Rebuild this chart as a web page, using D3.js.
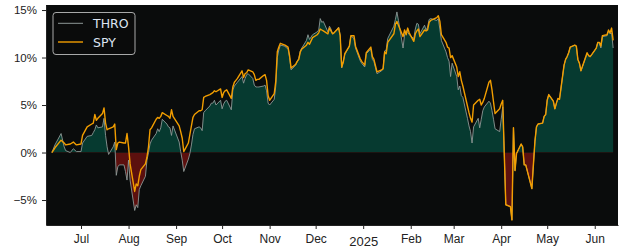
<!DOCTYPE html>
<html>
<head>
<meta charset="utf-8">
<script src="https://cdn.jsdelivr.net/npm/d3@7"></script>
<style>
  body { margin: 0; background: #fff; }
  svg { display: block; font-family: "DejaVu Sans", sans-serif; }
</style>
</head>
<body>
<div id="chart"></div>
<script>
// Trading days (sampled) and cumulative return in %
const dates = [
  "2024-06-12","2024-06-14","2024-06-18","2024-06-20","2024-06-21","2024-06-24","2024-06-26","2024-06-28",
  "2024-07-01","2024-07-02","2024-07-05","2024-07-08","2024-07-09","2024-07-10","2024-07-11","2024-07-12",
  "2024-07-15","2024-07-16","2024-07-17","2024-07-18","2024-07-19","2024-07-22","2024-07-23","2024-07-24",
  "2024-07-25","2024-07-26","2024-07-29","2024-07-30","2024-07-31","2024-08-01","2024-08-02","2024-08-05",
  "2024-08-06","2024-08-07","2024-08-08","2024-08-09","2024-08-12","2024-08-13","2024-08-14","2024-08-15",
  "2024-08-16","2024-08-19","2024-08-20","2024-08-21","2024-08-22","2024-08-23","2024-08-26","2024-08-27",
  "2024-08-28","2024-08-29","2024-08-30","2024-09-03","2024-09-04","2024-09-05","2024-09-06","2024-09-09",
  "2024-09-10","2024-09-11","2024-09-12","2024-09-13","2024-09-16","2024-09-17","2024-09-18","2024-09-19",
  "2024-09-20","2024-09-23","2024-09-24","2024-09-25","2024-09-26","2024-09-27","2024-09-30","2024-10-01",
  "2024-10-02","2024-10-03","2024-10-04","2024-10-07","2024-10-08","2024-10-09","2024-10-10","2024-10-11",
  "2024-10-14","2024-10-15","2024-10-16","2024-10-17","2024-10-18","2024-10-21","2024-10-22","2024-10-23",
  "2024-10-24","2024-10-25","2024-10-28","2024-10-29","2024-10-30","2024-10-31","2024-11-01","2024-11-04",
  "2024-11-05","2024-11-06","2024-11-07","2024-11-08","2024-11-11","2024-11-12","2024-11-13","2024-11-14",
  "2024-11-15","2024-11-18","2024-11-19","2024-11-20","2024-11-21","2024-11-22","2024-11-25","2024-11-26",
  "2024-11-27","2024-11-29","2024-12-02","2024-12-03","2024-12-04","2024-12-05","2024-12-06","2024-12-09",
  "2024-12-10","2024-12-11","2024-12-12","2024-12-13","2024-12-16","2024-12-17","2024-12-18","2024-12-19",
  "2024-12-20","2024-12-23","2024-12-24","2024-12-26","2024-12-27","2024-12-30","2024-12-31","2025-01-02",
  "2025-01-03","2025-01-06","2025-01-07","2025-01-08","2025-01-10","2025-01-13","2025-01-14","2025-01-15",
  "2025-01-16","2025-01-17","2025-01-21","2025-01-22","2025-01-23","2025-01-24","2025-01-27","2025-01-28",
  "2025-01-29","2025-01-30","2025-01-31","2025-02-03","2025-02-04","2025-02-05","2025-02-06","2025-02-07",
  "2025-02-10","2025-02-11","2025-02-12","2025-02-13","2025-02-14","2025-02-18","2025-02-19","2025-02-20",
  "2025-02-21","2025-02-24","2025-02-25","2025-02-26","2025-02-27","2025-02-28","2025-03-03","2025-03-04",
  "2025-03-05","2025-03-06","2025-03-07","2025-03-10","2025-03-11","2025-03-12","2025-03-13","2025-03-14",
  "2025-03-17","2025-03-18","2025-03-19","2025-03-20","2025-03-21","2025-03-24","2025-03-25","2025-03-26",
  "2025-03-27","2025-03-28","2025-03-31","2025-04-01","2025-04-02","2025-04-03","2025-04-04","2025-04-07",
  "2025-04-08","2025-04-09","2025-04-10","2025-04-11","2025-04-14","2025-04-15","2025-04-16","2025-04-17",
  "2025-04-21","2025-04-22","2025-04-23","2025-04-24","2025-04-25","2025-04-28","2025-04-29","2025-04-30",
  "2025-05-01","2025-05-02","2025-05-05","2025-05-06","2025-05-07","2025-05-08","2025-05-09","2025-05-12",
  "2025-05-13","2025-05-14","2025-05-15","2025-05-16","2025-05-19","2025-05-20","2025-05-21","2025-05-22",
  "2025-05-23","2025-05-27","2025-05-28","2025-05-29","2025-05-30","2025-06-02","2025-06-03","2025-06-04",
  "2025-06-05","2025-06-06","2025-06-09","2025-06-10","2025-06-11","2025-06-12","2025-06-13"
];

const spy = [
  0, 0.5, 1.3, 1.0, 0.8, 0.9, 1.1, 0.8,
  0.9, 1.8, 2.7, 3.0, 3.1, 4.0, 3.4, 3.6,
  4.1, 4.7, 3.1, 2.4, 2.5, 2.7, 3.0, 0.3,
  1.0, 1.1, 1.0, 1.0, 2.0, 0.6, -1.2, -4.1,
  -3.3, -3.5, -2.5, -1.8, -1.2, -0.5, 0.6, 2.4,
  2.6, 3.5, 3.7, 3.6, 3.8, 4.2, 3.9, 3.8,
  3.6, 4.5, 3.8, 2.8, 2.2, 1.5, 0.1, 1.0,
  1.9, 2.8, 3.7, 4.0, 4.4, 4.4, 4.5, 5.8,
  5.9, 6.1, 6.2, 6.3, 6.5, 6.4, 6.7, 5.8,
  6.3, 6.5, 6.6, 5.7, 6.9, 7.4, 7.6, 7.8,
  8.6, 7.9, 8.3, 8.4, 8.7, 8.5, 8.2, 7.6,
  7.7, 7.7, 8.1, 8.2, 7.6, 6.0, 5.5, 6.2,
  7.5, 10.6, 11.1, 11.5, 11.3, 11.2, 11.1, 10.2,
  8.9, 9.3, 9.6, 9.8, 10.6, 10.9, 11.3, 11.6,
  11.4, 12.1, 12.4, 12.6, 13.0, 12.9, 12.8, 12.5,
  13.1, 12.8, 12.5, 12.6, 13.1, 12.3, 9.0, 9.5,
  10.4, 11.2, 12.3, 12.3, 11.2, 9.9, 9.6, 9.2,
  10.5, 11.1, 10.1, 9.8, 8.5, 8.7, 8.8, 10.6,
  10.4, 11.6, 12.5, 13.5, 13.8, 13.4, 12.2, 12.9,
  12.4, 13.1, 12.6, 11.7, 12.5, 12.8, 13.0, 12.2,
  12.9, 12.8, 12.9, 13.7, 13.9, 14.2, 14.4, 13.8,
  12.4, 11.6, 11.1, 11.0, 10.0, 10.2, 9.0, 8.0,
  8.5, 7.6, 7.0, 4.9, 4.2, 3.6, 3.2, 5.0,
  5.5, 5.6, 5.0, 5.3, 5.7, 7.4, 7.6, 6.6,
  5.3, 4.1, 4.6, 5.1, 5.5, -0.1, -5.5, -5.7,
  -7.1, 2.6, -1.9, -0.1, 0.9, 0.6, -1.3, -1.3,
  -3.8, -1.3, 1.2, 2.7, 3.0, 3.1, 3.8, 4.0,
  5.5, 6.1, 5.4, 4.6, 5.2, 5.7, 5.6, 9.2,
  9.8, 10.1, 10.5, 11.1, 11.3, 11.2, 9.8, 9.4,
  8.6, 10.5, 10.2, 10.1, 10.3, 11.0, 11.6, 11.6,
  11.2, 12.3, 12.4, 12.9, 12.6, 13.1, 11.8
];

const thro = [
  0, 0.8, 2.0, 0.6, 0.2, 0.0, 0.4, 0.1,
  0.1, 1.0, 1.7, 1.8, 2.1, 2.4, 2.9, 2.6,
  2.7, 3.6, 1.8, 0.6, -0.2, 0.6, 1.1, -2.4,
  -1.5, -1.3, -1.3, -2.0, -2.9, -0.8, -2.9, -6.1,
  -5.5, -5.8, -3.9, -3.5, -2.5, -0.8, 0.0, 0.9,
  1.3, 2.0, 2.5, 2.2, 2.6, 3.5, 3.0, 2.7,
  2.6, 1.8, 2.8, 1.1, 0.1, -0.8, -2.0, -0.7,
  -0.1, 0.8, 1.9, 2.5, 2.7, 2.6, 2.3, 4.2,
  4.4, 4.9, 5.2, 5.2, 5.5, 5.0, 5.5, 4.6,
  5.1, 5.4, 5.5, 4.5, 6.6, 7.0, 7.2, 7.4,
  8.0, 7.3, 7.8, 8.2, 8.3, 7.8, 7.1, 6.9,
  6.9, 6.9, 7.0, 7.1, 6.5, 5.2, 5.0, 5.6,
  7.0, 10.0, 10.8, 11.3, 11.2, 11.0, 11.0, 10.0,
  8.7, 9.2, 9.6, 9.9, 10.7, 11.0, 11.8, 12.4,
  11.9, 12.4, 12.7, 12.9, 14.1, 13.7, 13.8, 12.7,
  13.3, 13.0, 12.5, 12.6, 13.2, 12.3, 8.9, 9.6,
  10.3, 11.2, 12.3, 12.0, 11.0, 9.7, 9.4, 9.0,
  10.4, 10.9, 9.8, 9.6, 8.3, 8.6, 8.9, 10.7,
  10.8, 12.0, 13.3, 14.0, 14.8, 13.9, 11.0, 12.4,
  12.8, 12.7, 12.4, 12.0, 13.0, 13.6, 13.5, 12.5,
  13.4, 12.9, 13.2, 14.0, 14.1, 13.9, 14.1, 13.0,
  11.8, 10.6, 10.0, 9.6, 8.0, 9.4, 8.0, 6.6,
  7.0, 6.0, 5.8, 3.6, 2.8, 2.2, 1.0, 2.7,
  3.6, 2.6, 3.5, 4.4, 4.8, 5.4, 5.2, 4.4,
  3.5, 2.5, 2.2, 3.5, 4.8, -0.1, -5.5, -5.7,
  -7.1, 2.6, -1.9, -0.1, 0.9, 0.6, -1.3, -1.3,
  -3.8, -1.3, 1.2, 2.7, 3.0, 3.1, 3.8, 4.0,
  5.5, 6.1, 5.4, 4.6, 5.2, 5.7, 5.6, 9.2,
  9.8, 10.1, 10.5, 11.1, 11.3, 11.2, 9.8, 9.4,
  8.6, 10.4, 10.2, 10.1, 10.3, 11.0, 11.6, 11.5,
  11.0, 12.2, 12.3, 12.8, 12.5, 12.6, 11.0
];

const monthTicks = ["2024-07-01","2024-08-01","2024-09-01","2024-10-01","2024-11-01","2024-12-01",
                    "2025-01-01","2025-02-01","2025-03-01","2025-04-01","2025-05-01","2025-06-01"];
const monthLabels = ["Jul","Aug","Sep","Oct","Nov","Dec","2025","Feb","Mar","Apr","May","Jun"];
const yTicks = [-5, 0, 5, 10, 15];
const seriesNames = ["THRO", "SPY"];

const W = 625, H = 250;
const plotL = 46, plotR = 618, plotT = 5, plotB = 225;

const parse = d3.utcParse("%Y-%m-%d");
const rows = dates.map((d, i) => ({ date: parse(d), spy: spy[i], thro: thro[i] }));

const x = d3.scaleUtc()
  .domain([new Date(Date.UTC(2024, 5, 8, 4)), new Date(Date.UTC(2025, 5, 16, 4))])
  .range([plotL, plotR]);
const y = d3.scaleLinear().domain([-7.63, 15.53]).range([plotB, plotT]);

const svg = d3.select('#chart').append('svg')
  .attr('width', W).attr('height', H);

// plot background
svg.append('rect')
  .attr('x', plotL).attr('y', plotT)
  .attr('width', plotR - plotL).attr('height', plotB - plotT)
  .attr('fill', '#0a0c0c');

// clip regions above / below zero
const defs = svg.append('defs');
defs.append('clipPath').attr('id', 'pos').append('rect')
  .attr('x', plotL).attr('y', plotT).attr('width', plotR - plotL).attr('height', y(0) - plotT);
defs.append('clipPath').attr('id', 'neg').append('rect')
  .attr('x', plotL).attr('y', y(0)).attr('width', plotR - plotL).attr('height', plotB - y(0));

const area = d3.area()
  .x(d => x(d.date))
  .y0(y(0))
  .y1(d => y(d.thro));

svg.append('path').datum(rows)
  .attr('clip-path', 'url(#pos)')
  .attr('fill', '#063a30')
  .attr('d', area);
svg.append('path').datum(rows)
  .attr('clip-path', 'url(#neg)')
  .attr('fill', '#5c100e')
  .attr('d', area);

const lineThro = d3.line().x(d => x(d.date)).y(d => y(d.thro));
const lineSpy = d3.line().x(d => x(d.date)).y(d => y(d.spy));

svg.append('path').datum(rows)
  .attr('fill', 'none')
  .attr('stroke', '#8c9896')
  .attr('stroke-width', 0.9)
  .attr('d', lineThro);
svg.append('path').datum(rows)
  .attr('fill', 'none')
  .attr('stroke', '#f29e00')
  .attr('stroke-width', 1.4)
  .attr('stroke-linejoin', 'round')
  .attr('d', lineSpy);

// axes
const xAxis = d3.axisBottom(x)
  .tickValues(monthTicks.map(parse))
  .tickFormat((d, i) => monthLabels[i])
  .tickSize(4).tickSizeOuter(0).tickPadding(5);
const gx = svg.append('g').attr('transform', `translate(0,${plotB})`).call(xAxis);
gx.selectAll('text')
  .attr('fill', '#222')
  .style('font-size', (d, i) => monthLabels[i] === '2025' ? '13px' : '12px')
  .attr('dy', (d, i) => monthLabels[i] === '2025' ? '0.9em' : '0.71em');

const yAxis = d3.axisLeft(y)
  .tickValues(yTicks)
  .tickFormat(d => (d < 0 ? '\u2212' + Math.abs(d) : d) + '%')
  .tickSize(4).tickSizeOuter(0).tickPadding(5);
const gy = svg.append('g').attr('transform', `translate(${plotL},0)`).call(yAxis);
gy.selectAll('text').attr('fill', '#222').style('font-size', '11.5px');

svg.selectAll('.domain').attr('stroke', '#222');
svg.selectAll('.tick line').attr('stroke', '#222');

// legend
const lg = svg.append('g');
lg.append('rect')
  .attr('x', 53).attr('y', 12.5).attr('width', 82).attr('height', 42)
  .attr('rx', 3)
  .attr('fill', '#0a0c0c').attr('fill-opacity', 0.85)
  .attr('stroke', '#bbbbbb').attr('stroke-width', 0.9);
const legendColors = ['#8c9896', '#f29e00'];
seriesNames.forEach((name, i) => {
  const ly = 23.3 + i * 18.7;
  lg.append('line')
    .attr('x1', 58).attr('x2', 83).attr('y1', ly).attr('y2', ly)
    .attr('stroke', legendColors[i]).attr('stroke-width', i === 0 ? 1 : 1.4);
  lg.append('text')
    .attr('x', 93).attr('y', ly + 4.5)
    .attr('fill', '#dde5f2')
    .style('font-size', '12.5px')
    .text(name);
});
</script>
</body>
</html>
